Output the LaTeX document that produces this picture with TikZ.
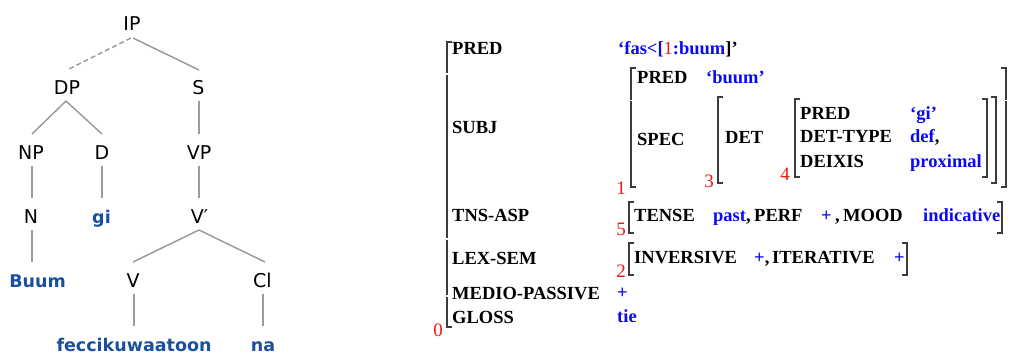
\documentclass[tikz,border=0pt]{standalone}
\usepackage{fontspec}
\newfontfamily\treefont{DejaVu Sans}
\newfontfamily\fsfont{Liberation Serif}
\usetikzlibrary{calc}
\definecolor{treeblue}{RGB}{26,80,156}
\definecolor{edgegray}{RGB}{155,155,155}
\definecolor{fblue}{RGB}{10,10,240}
\definecolor{fred}{RGB}{240,20,20}
\definecolor{brk}{RGB}{60,60,60}
\newcommand\lbrk[3]{\draw[brak] (#1+5,#2) -- (#1,#2) -- (#1,#3) -- (#1+5,#3);}
\newcommand\rbrk[3]{\draw[brak] (#1-5,#2) -- (#1,#2) -- (#1,#3) -- (#1-5,#3);}
\begin{document}
\begin{tikzpicture}[x=1pt,y=-1pt,
 lab/.style={inner sep=0pt, anchor=base, font=\treefont\fontsize{19}{19}\selectfont, text=black},
 word/.style={inner sep=0pt, anchor=base, font=\treefont\bfseries\fontsize{17.5}{17.5}\selectfont, text=treeblue},
 edge/.style={draw=edgegray, line width=1.5pt},
 attr/.style={inner sep=0pt, anchor=base west, font=\fsfont\bfseries\fontsize{18.5}{18.5}\selectfont, text=black},
 val/.style={attr, text=fblue},
 idx/.style={inner sep=0pt, anchor=base east, font=\fsfont\fontsize{19}{19}\selectfont, text=fred},
 brak/.style={draw=brk, line width=1.2pt},
]
\useasboundingbox (0,0) rectangle (1009,354);

% ---------- tree ----------
\node[lab] (IP) at (132,30) {IP};
\node[lab] (DP) at (67,94) {DP};
\node[lab] (S) at (198.5,94) {S};
\node[lab] (NP) at (31,159) {NP};
\node[lab] (D) at (102,159) {D};
\node[lab] (VP) at (199,159) {VP};
\node[lab] (N) at (31,223) {N};
\node[word] (gi) at (101.5,223) {gi};
\node[lab] (Vbar) at (199.5,223) {V′};
\node[word] (Buum) at (37.5,287) {Buum};
\node[lab] (V) at (133,287) {V};
\node[lab] (Cl) at (262.5,287) {Cl};
\node[word] (fecc) at (134,351) {feccikuwaatoon};
\node[word] (na) at (263,351) {na};

\draw[edge, dash pattern=on 5pt off 3pt] ($(IP.base)+(-1,8)$) -- ($(DP.base)+(0,-24)$);
\draw[edge] ($(IP.base)+(1,8)$) -- ($(S.base)+(0.5,-24)$);
\draw[edge] ($(DP.base)+(-1,7)$) -- ($(NP.base)+(1,-25)$);
\draw[edge] ($(DP.base)+(-1,7)$) -- ($(D.base)+(0,-25)$);
\draw[edge] ($(S.base)+(0.5,7)$) -- ($(VP.base)+(0,-25)$);
\draw[edge] ($(NP.base)+(1,7)$) -- ($(N.base)+(1,-25)$);
\draw[edge] ($(D.base)+(0,7)$) -- ($(D.base |- gi.base)+(0,-25)$);
\draw[edge] ($(VP.base)+(0,7)$) -- ($(VP.base |- Vbar.base)+(0,-25)$);
\draw[edge] ($(N.base)+(1,7)$) -- ($(N.base |- Buum.base)+(1,-25)$);
\draw[edge] ($(Vbar.base)+(-0.5,7)$) -- ($(V.base)+(0,-25)$);
\draw[edge] ($(Vbar.base)+(-0.5,7)$) -- ($(Cl.base)+(2.5,-25)$);
\draw[edge] ($(V.base)+(1,7)$) -- ($(V.base |- fecc.base)+(1,-25)$);
\draw[edge] ($(Cl.base)+(0.5,7)$) -- ($(Cl.base |- na.base)+(0.5,-25)$);

% ---------- f-structure ----------
% outer (0)
\draw[brak] (452,42) -- (447,42) -- (447,73);
\draw[brak] (447,74.5) -- (447,238);
\draw[brak] (447,239.5) -- (447,295);
\draw[brak] (447,296.5) -- (447,327) -- (452,327);
\node[idx] (i0) at (443,336) {0};
\node[attr] (pred0) at (452,54) {PRED};
\node[val] (pred0v) at (618,54) {‘fas<[{\mdseries\color{fred}1}:buum\textcolor{black}{]’}};
\node[attr] (subj) at (452,133) {SUBJ};
\node[attr] (tns) at (452,221) {TNS-ASP};
\node[attr] (lex) at (452,264) {LEX-SEM};
\node[attr] (medio) at (452,299) {MEDIO-PASSIVE};
\node[attr] (gloss) at (452,323) {GLOSS};
\node[val] (mediov) at (617,298) {+};
\node[val] (glossv) at (617,322) {tie};

% SUBJ (1)
\draw[brak] (636,68) -- (631,68) -- (631,99.5);
\draw[brak] (631,101) -- (631,187) -- (636,187);
\draw[brak] (1001,68) -- (1006,68) -- (1006,99.5);
\draw[brak] (1006,101) -- (1006,187) -- (1001,187);
\node[idx] (i1) at (626,194) {1};
\node[attr] (pred1) at (637,83) {PRED};
\node[val] (pred1v) at (706,83) {‘buum’};
\node[attr] (spec) at (637,145) {SPEC};

% SPEC (3)
\lbrk{718}{97}{183}
\rbrk{996}{97}{183}
\node[idx] (i3) at (714,187) {3};
\node[attr] (det) at (725,143) {DET};

% DET (4)
\lbrk{795}{99}{177}
\rbrk{987}{99}{177}
\node[idx] (i4) at (790,180) {4};
\node[attr] (pred4) at (800,119) {PRED};
\node[val] (pred4v) at (910,119) {‘gi’};
\node[attr] (dtype) at (800,142) {DET-TYPE};
\node[val] (dtypev) at (910,142) {def\textcolor{black}{,}};
\node[attr] (deixis) at (800,167) {DEIXIS};
\node[val] (deixisv) at (910,167) {proximal};

% TNS-ASP (5)
\lbrk{629}{202}{233}
\rbrk{1002}{202}{233}
\node[idx] (i5) at (626,235) {5};
\node[attr] (tense) at (634,221) {TENSE};
\node[val] (tensev) at (713,221) {past\textcolor{black}{,}};
\node[attr] (perf) at (754,221) {PERF};
\node[val] (perfv) at (821,221) {+};
\node[attr] (comma5) at (835,221) {,};
\node[attr] (mood) at (843,221) {MOOD};
\node[val] (moodv) at (923,221) {indicative};

% LEX-SEM (2)
\lbrk{629}{243}{275}
\rbrk{907}{243}{275}
\node[idx] (i2) at (626,277) {2};
\node[attr] (inv) at (634,263) {INVERSIVE};
\node[val] (invv) at (754,263) {+\textcolor{black}{,}};
\node[attr] (iter) at (772,263) {ITERATIVE};
\node[val] (iterv) at (894,263) {+};
\end{tikzpicture}
\end{document}
